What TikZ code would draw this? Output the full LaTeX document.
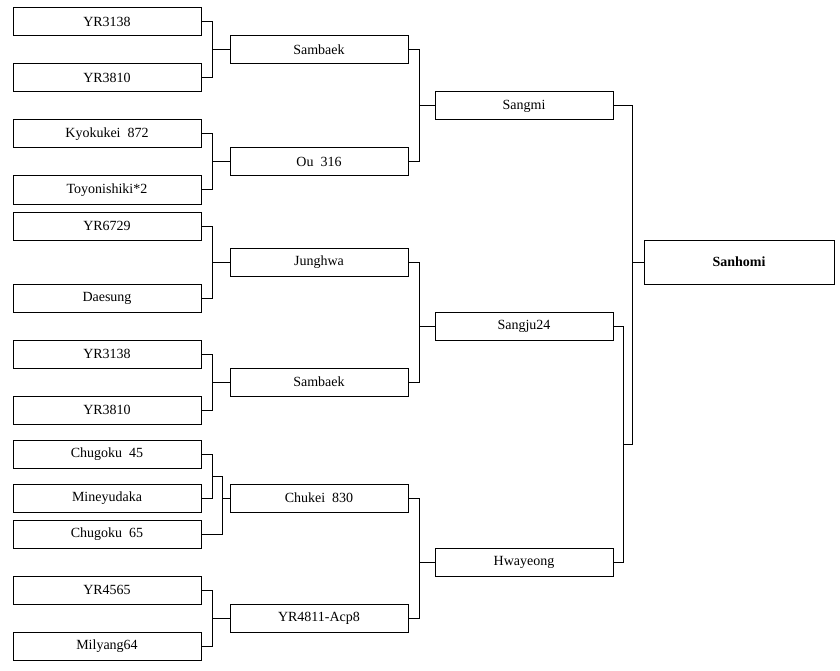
\documentclass[tikz,border=0pt]{standalone}
\usepackage{fontspec}
\setmainfont{Liberation Serif}
\begin{document}
\begin{tikzpicture}[x=1pt,y=-1pt,
  box/.style={draw,line width=1pt,outer sep=0pt,inner sep=0pt,minimum height=28pt,font=\fontsize{14}{16}\selectfont},
  cA/.style={box,minimum width=188pt},
  cB/.style={box,minimum width=178pt},
  link/.style={line width=1pt}]
\useasboundingbox (0,0) rectangle (840,671);
% column 1
\node[cA] (a1)  at (107,21.5) {YR3138};
\node[cA] (a2)  at (107,78)   {YR3810};
\node[cA] (a3)  at (107,134)  {Kyokukei\ \ 872};
\node[cA] (a4)  at (107,190)  {Toyonishiki*2};
\node[cA] (a5)  at (107,226)  {YR6729};
\node[cA] (a6)  at (107,298)  {Daesung};
\node[cA] (a7)  at (107,354)  {YR3138};
\node[cA] (a8)  at (107,410)  {YR3810};
\node[cA] (a9)  at (107,454)  {Chugoku\ \ 45};
\node[cA] (a10) at (107,498)  {Mineyudaka};
\node[cA] (a11) at (107,534)  {Chugoku\ \ 65};
\node[cA] (a12) at (107,590)  {YR4565};
\node[cA] (a13) at (107,646)  {Milyang64};
% column 2
\node[cB] (b1) at (319,49.5) {Sambaek};
\node[cB] (b2) at (319,162)  {Ou\ \ 316};
\node[cB] (b3) at (319,262)  {Junghwa};
\node[cB] (b4) at (319,382)  {Sambaek};
\node[cB] (b5) at (319,498)  {Chukei\ \ 830};
\node[cB] (b6) at (319,618)  {YR4811-Acp8};
% column 3
\node[cB] (c1) at (524,106) {Sangmi};
\node[cB] (c2) at (524,326) {Sangju24};
\node[cB] (c3) at (524,562) {Hwayeong};
% final
\node[box,minimum width=190pt,minimum height=44pt,font=\fontsize{14}{16}\selectfont\bfseries] (d1) at (739,262) {Sanhomi};
% coordinates
\coordinate (cg) at (222,476);
\coordinate (j1) at (623,444);
% column 1 -> 2
\draw[link] (a1.east) -- ++(11,0) |- (a2.east);
\draw[link] (b1.west) -- ++(-18,0);
\draw[link] (a3.east) -- ++(11,0) |- (a4.east);
\draw[link] (b2.west) -- ++(-18,0);
\draw[link] (a5.east) -- ++(11,0) |- (a6.east);
\draw[link] (b3.west) -- ++(-18,0);
\draw[link] (a7.east) -- ++(11,0) |- (a8.east);
\draw[link] (b4.west) -- ++(-18,0);
\draw[link] (a9.east) -- ++(11,0) |- (a10.east);
\draw[link] (a11.east) -- ++(21,0) |- (cg) -- ++(-10,0);
\draw[link] (b5.west) -- ++(-8,0);
\draw[link] (a12.east) -- ++(11,0) |- (a13.east);
\draw[link] (b6.west) -- ++(-18,0);
% column 2 -> 3
\draw[link] (b1.east) -- ++(11,0) |- (b2.east);
\draw[link] (c1.west) -- ++(-16,0);
\draw[link] (b3.east) -- ++(11,0) |- (b4.east);
\draw[link] (c2.west) -- ++(-16,0);
\draw[link] (b5.east) -- ++(11,0) |- (b6.east);
\draw[link] (c3.west) -- ++(-16,0);
% column 3 -> final
\draw[link] (c2.east) -- ++(10,0) |- (c3.east);
\draw[link] (c1.east) -- ++(19,0) |- (j1);
\draw[link] (d1.west) -- ++(-12,0);
\end{tikzpicture}
\end{document}
